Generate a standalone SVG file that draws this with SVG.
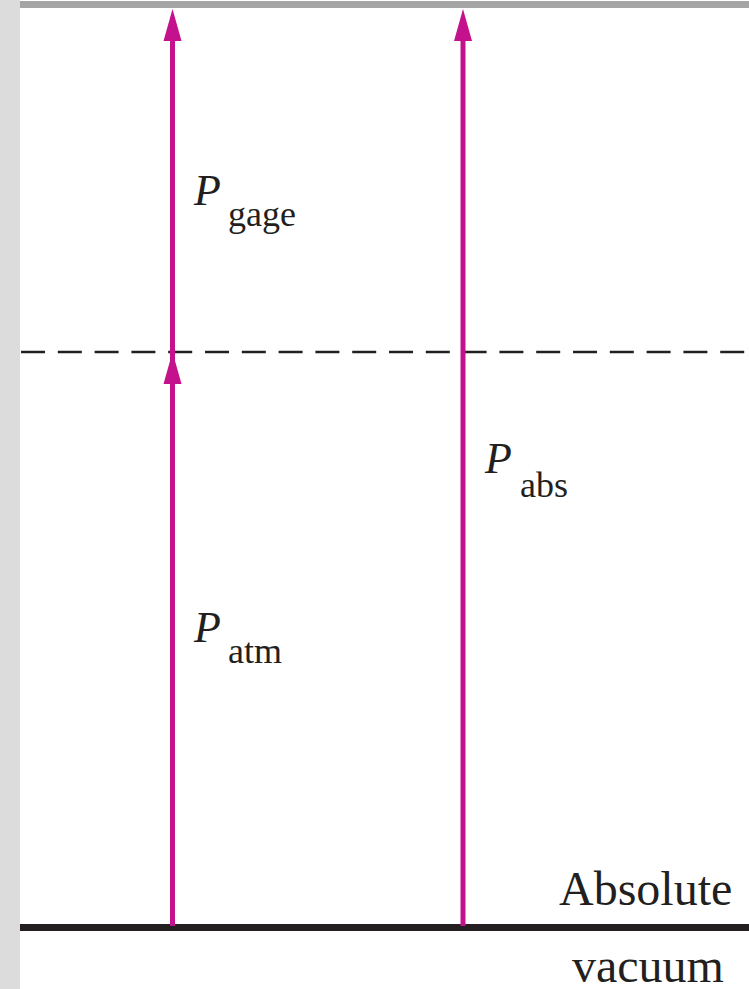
<svg xmlns="http://www.w3.org/2000/svg" width="749" height="989" viewBox="0 0 749 989">
<style>
.arr{stroke:#c4128c;stroke-width:5;fill:none}
.head{fill:#c4128c}
.p{font-family:"Liberation Serif",serif;font-style:italic;font-size:44px;fill:#231f20}
.sub{font-family:"Liberation Serif",serif;font-size:36px;fill:#231f20}
.lbl{font-family:"Liberation Serif",serif;font-size:48px;fill:#231f20}
</style>
<rect x="0" y="0" width="749" height="989" fill="#ffffff"/>
<rect x="0" y="0" width="20" height="989" fill="#dcdcdc"/>
<rect x="20" y="1" width="729" height="7" fill="#a5a5a5"/>
<g id="levels">
<line x1="21" y1="352" x2="749" y2="352" stroke="#231f20" stroke-width="2.5" stroke-dasharray="24 12.8"/>
<rect x="20" y="924" width="729" height="7" fill="#231f20"/>
</g>
<g id="connectors">
<line class="arr" x1="172.5" y1="926" x2="172.5" y2="38"/>
<polygon class="head" points="172.5,9 163.5,41 181.5,41"/>
<polygon class="head" points="172.5,352 163.5,384 181.5,384"/>
<line class="arr" x1="463" y1="926" x2="463" y2="38"/>
<polygon class="head" points="463,9 454,41 472,41"/>
</g>
<g id="gage">
<text class="p" x="194" y="205">P</text>
<text class="sub" x="228" y="226">gage</text>
</g>
<g id="atm">
<text class="p" x="194" y="642">P</text>
<text class="sub" x="228" y="663">atm</text>
</g>
<g id="abs">
<text class="p" x="485" y="473">P</text>
<text class="sub" x="520" y="497">abs</text>
</g>
<g id="vacuum">
<text class="lbl" x="559" y="905">Absolute</text>
<text class="lbl" x="572" y="982">vacuum</text>
</g>
</svg>
